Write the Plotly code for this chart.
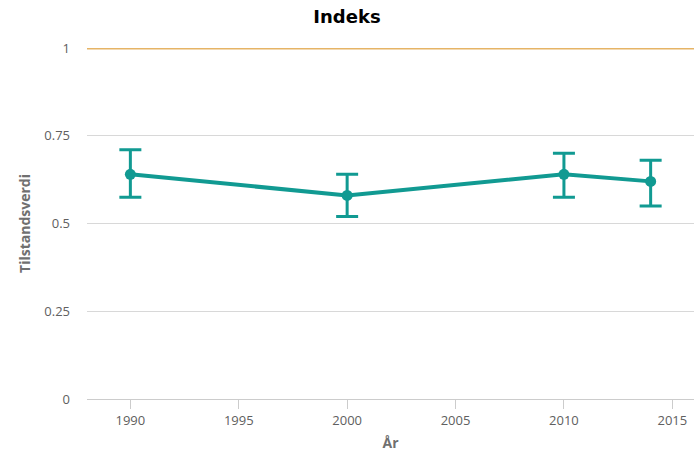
import plotly.graph_objects as go

years = [1990, 2000, 2010, 2014]
values = [0.64, 0.58, 0.64, 0.62]
upper = [0.71, 0.64, 0.70, 0.68]
lower = [0.575, 0.52, 0.575, 0.55]
reference_value = 1
x_ticks = [1990, 1995, 2000, 2005, 2010, 2015]
y_ticks = [0, 0.25, 0.5, 0.75, 1]
y_tick_labels = ["0", "0.25", "0.5", "0.75", "1"]

teal = "#119a92"
orange = "#e6b466"

err_plus = [u - v for u, v in zip(upper, values)]
err_minus = [v - l for v, l in zip(values, lower)]

fig = go.Figure()
fig.add_trace(go.Scatter(
    x=years, y=values, mode="lines+markers",
    line=dict(color=teal, width=4),
    marker=dict(color=teal, size=11),
    error_y=dict(type="data", symmetric=False, array=err_plus, arrayminus=err_minus,
                 color=teal, thickness=3, width=11),
    cliponaxis=False, showlegend=False,
))
fig.add_shape(type="line", xref="paper", yref="y", x0=0, x1=1,
              y0=reference_value, y1=reference_value,
              line=dict(color=orange, width=3), layer="above")

fig.update_layout(
    width=694, height=452,
    margin=dict(l=87, r=0, t=48, b=53),
    paper_bgcolor="white", plot_bgcolor="white",
    title=dict(text="<b>Indeks</b>", x=0.5, xref="container", xanchor="center",
               y=1 - 17 / 452, yref="container", yanchor="middle",
               font=dict(family="DejaVu Sans", size=18, color="#000000")),
    font=dict(family="Open Sans", color="#666666", size=13),
    xaxis=dict(range=[1988.0, 2016.0], tickvals=x_ticks, showgrid=False,
               zeroline=False, showline=True, linecolor="#cccccc", linewidth=1,
               ticks="outside", ticklen=9, tickcolor="#cccccc", tickwidth=1,
               tickfont=dict(size=13, color="#606060"),
               title=dict(text="<b>År</b>", font=dict(size=14, color="#707070"), standoff=10)),
    yaxis=dict(range=[0, 1], tickvals=y_ticks, ticktext=y_tick_labels,
               showgrid=True, gridcolor="#d8d8d8", gridwidth=1, zeroline=False,
               showline=False, ticks="", ticklabelstandoff=16,
               tickfont=dict(size=13, color="#606060"),
               title=dict(text="<b>Tilstandsverdi</b>", font=dict(size=14, color="#707070"), standoff=10)),
)

fig.write_html("out.html", config={"displayModeBar": False},
               post_script="document.body.style.margin='0';document.body.style.overflow='hidden';")
